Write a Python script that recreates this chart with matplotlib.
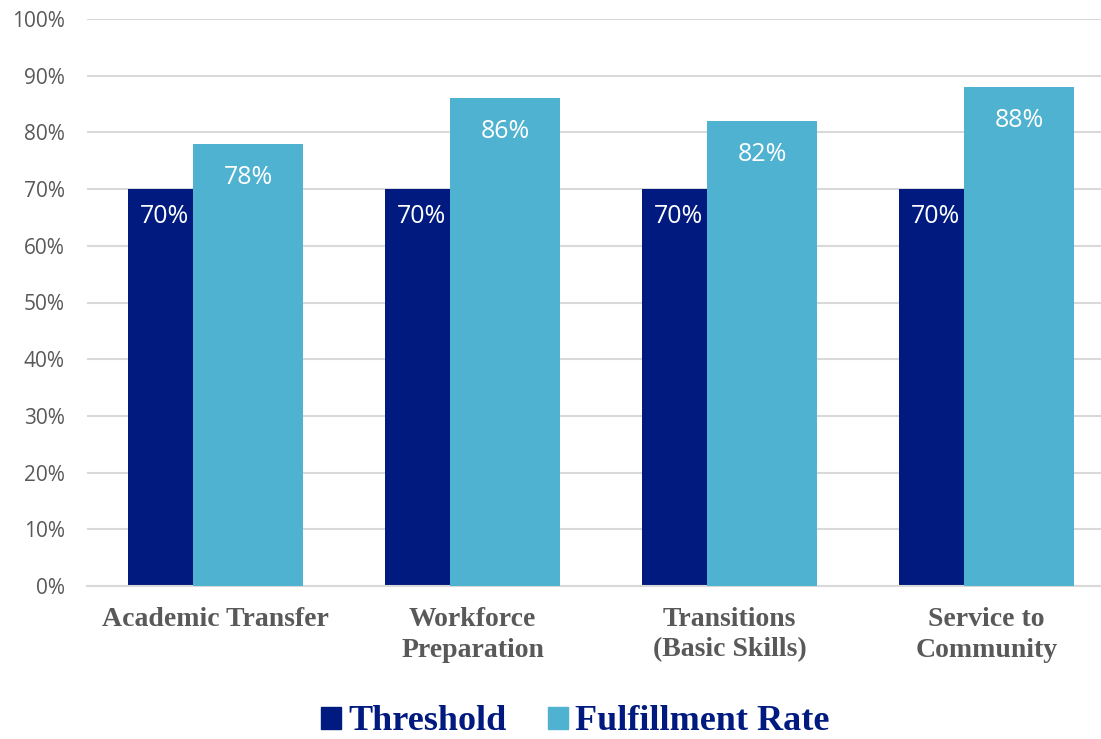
import matplotlib.pyplot as plt
import numpy as np
from matplotlib.patches import Patch


categories = ["Academic Transfer", "Workforce\nPreparation",
              "Transitions\n(Basic Skills)", "Service to\nCommunity"]
threshold = [70, 70, 70, 70]
fulfillment = [78, 86, 82, 88]
y_ticks = list(range(0, 101, 10))

NAVY = "#001A7F"
LIGHT = "#4FB2D1"
GRAY_TEXT = "#595959"
GRID = "#D9D9D9"
SANS = ["Open Sans", "DejaVu Sans"]
SERIF = ["Liberation Serif", "DejaVu Serif"]


def bar_chart():
    fig = plt.figure(figsize=(11.01, 7.39), dpi=100)
    ax = fig.add_axes([87 / 1101, 153 / 739, 1028 / 1101, 567 / 739])

    x = np.arange(len(categories))
    width = 0.428
    offset = 0.128
    ax.bar(x - offset, threshold, width, color=NAVY, zorder=2, label="Threshold")
    ax.bar(x + offset, fulfillment, width, color=LIGHT, zorder=3, label="Fulfillment Rate")

    for i in x:
        # label sits in the part of the navy bar not covered by the light one
        visible_mid = x[i] - width / 2
        ax.text(visible_mid + 0.015, threshold[i] - 4.9, f"{threshold[i]}%", color="white",
                ha="center", va="center", fontsize=18, family=SANS, zorder=4)
        ax.text(x[i] + offset, fulfillment[i] - 5.9, f"{fulfillment[i]}%", color="white",
                ha="center", va="center", fontsize=18, family=SANS, zorder=4)

    ax.set_xlim(-0.5, len(categories) - 0.5)
    ax.set_ylim(0, 100)
    ax.set_yticks(y_ticks)
    ax.set_yticklabels([f"{t}%" for t in y_ticks], fontsize=15, color=GRAY_TEXT, family=SANS)
    ax.set_xticks(x)
    ax.set_xticklabels(categories, fontsize=20, color=GRAY_TEXT, family=SERIF,
                       fontweight="bold", linespacing=1.3)
    ax.tick_params(axis="both", length=0)
    ax.tick_params(axis="x", pad=15)
    ax.tick_params(axis="y", pad=16)
    ax.grid(axis="y", color=GRID, linewidth=1.5, zorder=0)
    for side in ["top", "right", "left"]:
        ax.spines[side].set_visible(False)
    ax.spines["bottom"].set_color(GRID)
    ax.spines["bottom"].set_linewidth(1.5)

    handles = [Patch(color=NAVY), Patch(color=LIGHT)]
    fig.legend(handles, ["Threshold", "Fulfillment Rate"], loc="center",
               bbox_to_anchor=(575 / 1101, 1 - 722 / 739), ncol=2, frameon=False,
               prop={"family": SERIF, "weight": "bold", "size": 26},
               labelcolor=NAVY, handlelength=0.55, handleheight=0.55,
               handletextpad=0.2, columnspacing=1.15, borderpad=0)

    fig.savefig("out.png", dpi=100)


bar_chart()
